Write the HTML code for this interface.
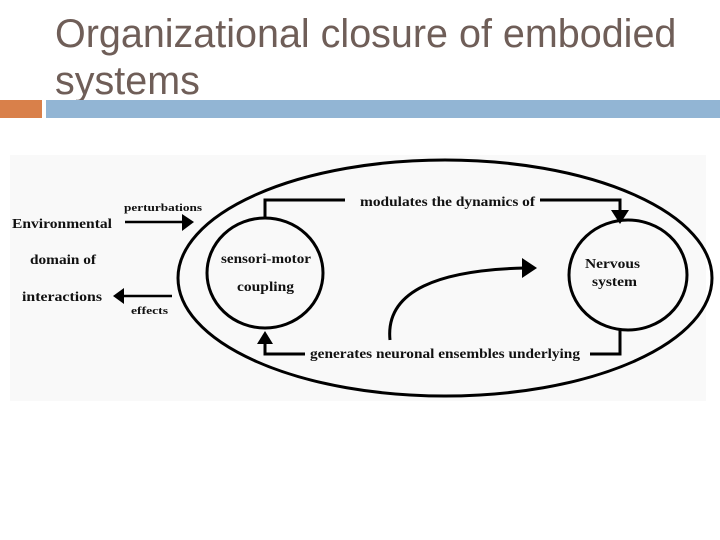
<!DOCTYPE html>
<html><head><meta charset="utf-8"><style>
body{margin:0;width:720px;height:540px;background:#fff;overflow:hidden;position:relative;font-family:"Liberation Sans",sans-serif}
.t{position:absolute;left:55px;top:11px;font-size:39.5px;line-height:47px;color:#6f5e58;white-space:nowrap}
.o{position:absolute;left:0;top:100px;width:42px;height:18px;background:#d9804a}
.b{position:absolute;left:46px;top:100px;width:674px;height:18px;background:#92b5d4}
svg{position:absolute;left:0;top:0}
svg text{font-family:"Liberation Serif",serif;font-weight:bold;fill:#111}
</style></head><body>
<div class="t">Organizational closure of embodied<br>systems</div>
<div class="o"></div><div class="b"></div>
<svg width="720" height="540">
<rect x="10" y="155" width="696" height="246" fill="#f9f9f9"/>
<ellipse cx="445" cy="278" rx="267" ry="118" fill="none" stroke="#000" stroke-width="3"/>
<ellipse cx="265" cy="273" rx="58" ry="55" fill="none" stroke="#000" stroke-width="3"/>
<ellipse cx="628" cy="275" rx="59" ry="55" fill="none" stroke="#000" stroke-width="3"/>
<polyline points="265,218 265,200 345,200" fill="none" stroke="#000" stroke-width="3"/>
<polyline points="540,200 620,200 620,212" fill="none" stroke="#000" stroke-width="3"/>
<polygon points="611,210 629,210 620,224" fill="#000"/>
<polyline points="620,330 620,354 590,354" fill="none" stroke="#000" stroke-width="3"/>
<polyline points="305,354 265,354 265,340" fill="none" stroke="#000" stroke-width="3"/>
<polygon points="257,344 273,344 265,331" fill="#000"/>
<path d="M390,340 C385,290 440,270 525,268" fill="none" stroke="#000" stroke-width="3"/>
<polygon points="522,258 537,268 522,278" fill="#000"/>
<line x1="125" y1="222" x2="183" y2="222" stroke="#000" stroke-width="2.5"/>
<polygon points="182,214 194,222 182,231" fill="#000"/>
<line x1="172" y1="296" x2="122" y2="296" stroke="#000" stroke-width="2.5"/>
<polygon points="124,288 113,296 124,304" fill="#000"/>
<text x="360" y="206" font-size="14" textLength="175" lengthAdjust="spacingAndGlyphs">modulates the dynamics of</text>
<text x="310" y="358" font-size="14" textLength="270" lengthAdjust="spacingAndGlyphs">generates neuronal ensembles underlying</text>
<text x="221" y="263" font-size="14" textLength="90" lengthAdjust="spacingAndGlyphs">sensori-motor</text>
<text x="237" y="291" font-size="14" textLength="57" lengthAdjust="spacingAndGlyphs">coupling</text>
<text x="585" y="268" font-size="14" textLength="55" lengthAdjust="spacingAndGlyphs">Nervous</text>
<text x="592" y="286" font-size="14" textLength="45" lengthAdjust="spacingAndGlyphs">system</text>
<text x="12" y="228" font-size="14" textLength="100" lengthAdjust="spacingAndGlyphs">Environmental</text>
<text x="30" y="264" font-size="14" textLength="66" lengthAdjust="spacingAndGlyphs">domain of</text>
<text x="22" y="301" font-size="14" textLength="80" lengthAdjust="spacingAndGlyphs">interactions</text>
<text x="124" y="211" font-size="10" textLength="78" lengthAdjust="spacingAndGlyphs">perturbations</text>
<text x="131" y="314" font-size="10" textLength="37" lengthAdjust="spacingAndGlyphs">effects</text>
</svg>
</body></html>
